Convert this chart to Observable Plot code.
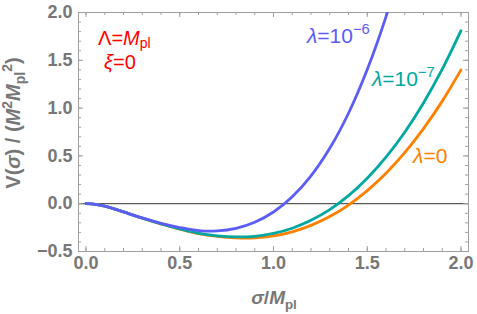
<!DOCTYPE html>
<html><head><meta charset="utf-8">
<script src="https://cdn.jsdelivr.net/npm/d3@7"></script>
<script src="https://cdn.jsdelivr.net/npm/@observablehq/plot@0.6"></script>
<style>body{margin:0;background:#fff} svg{display:block}</style>
</head><body><div id="chart"></div>
<script>
// ---- data ----
const sigma = [0,0.05,0.1,0.15,0.2,0.3,0.4,0.5,0.6,0.7,0.8,0.9,1.0,1.1,1.2,1.3,1.4,1.5,1.6,1.7,1.8,1.9,2.0];
const vLambda0   = [0,-0.007,-0.026,-0.054,-0.086,-0.151,-0.212,-0.265,-0.313,-0.342,-0.357,-0.358,-0.337,-0.294,-0.227,-0.135,-0.014,0.137,0.319,0.534,0.785,1.073,1.40];
const vLambda1e7 = [0,-0.007,-0.026,-0.054,-0.086,-0.151,-0.211,-0.263,-0.310,-0.336,-0.347,-0.341,-0.311,-0.257,-0.174,-0.062,0.084,0.267,0.487,0.748,1.054,1.407,1.81];
const vLambda1e6 = [0,-0.007,-0.026,-0.054,-0.086,-0.149,-0.206,-0.249,-0.281,-0.284,-0.257,-0.194,-0.087,0.072,0.291,0.579,0.946,1.403,1.957,2.622];
const seriesColors = ["#ff8000", "#00a89f", "#5c5cf7"];
const xTickValues = [0, 0.5, 1, 1.5, 2];
const xTickLabels = ["0.0", "0.5", "1.0", "1.5", "2.0"];
const yTickValues = [-0.5, 0, 0.5, 1, 1.5, 2];
const yTickLabels = ["\u22120.5", "0.0", "0.5", "1.0", "1.5", "2.0"];
const xMinor = d3.range(0, 21).map(i => i / 10);
const yMinor = d3.range(-5, 21).map(i => i / 10);

const FONT = "'Liberation Sans', Arial, sans-serif";
const GRAY = "#777";
const FRAME = "#a0a0a0";

const rows = [];
vLambda0.forEach((v, i) => rows.push({s: sigma[i], v, k: 0}));
vLambda1e7.forEach((v, i) => rows.push({s: sigma[i], v, k: 1}));
vLambda1e6.forEach((v, i) => rows.push({s: sigma[i], v, k: 2}));

const W = 477, H = 314, mL = 78, mR = 9, mT = 12, mB = 63;
const pw = W - mL - mR, ph = H - mT - mB;

const plot = Plot.plot({
  width: W, height: H,
  marginLeft: mL, marginRight: mR, marginTop: mT, marginBottom: mB,
  style: {fontFamily: FONT, background: "#fff"},
  x: {domain: [-0.04, 2.04], axis: null},
  y: {domain: [-0.5, 2.0], axis: null},
  marks: [
    Plot.ruleY([0], {stroke: "#333", strokeWidth: 1}),
    // ticks inside the frame (all four sides)
    Plot.tickX(xMinor, {x: d => d, stroke: FRAME, insetTop: ph - 3}),
    Plot.tickX(xTickValues, {x: d => d, stroke: FRAME, insetTop: ph - 5}),
    Plot.tickX(xMinor, {x: d => d, stroke: FRAME, insetBottom: ph - 3}),
    Plot.tickX(xTickValues, {x: d => d, stroke: FRAME, insetBottom: ph - 5}),
    Plot.tickY(yMinor, {y: d => d, stroke: FRAME, insetRight: pw - 3}),
    Plot.tickY(yTickValues, {y: d => d, stroke: FRAME, insetRight: pw - 5}),
    Plot.tickY(yMinor, {y: d => d, stroke: FRAME, insetLeft: pw - 3}),
    Plot.tickY(yTickValues, {y: d => d, stroke: FRAME, insetLeft: pw - 5}),
    Plot.frame({stroke: FRAME, strokeWidth: 1}),
    Plot.text(xTickValues, {x: d => d, frameAnchor: "bottom", dy: 17, text: (d, i) => xTickLabels[i],
      fill: GRAY, fontSize: 18, fontWeight: "bold", fontFamily: FONT}),
    Plot.text(yTickValues, {y: d => d, frameAnchor: "left", dx: -6, textAnchor: "end", text: (d, i) => yTickLabels[i],
      fill: GRAY, fontSize: 18, fontWeight: "bold", fontFamily: FONT}),
    Plot.line(rows, {x: "s", y: "v", z: "k", stroke: d => seriesColors[d.k], strokeWidth: 2.8,
      curve: "catmull-rom", clip: true})
  ]
});
document.getElementById("chart").appendChild(plot);

const sx = plot.scale("x"), sy = plot.scale("y");
function rich(x, y, parts, {size = 21, fill = "#000", weight = "normal", anchor = "start", rotate = 0, subShift = 0.25} = {}) {
  const t = d3.select(plot).append("text")
    .attr("transform", `translate(${x},${y}) rotate(${rotate})`)
    .attr("text-anchor", anchor).attr("font-family", FONT).attr("font-size", size)
    .attr("font-weight", weight).attr("fill", fill);
  let shift = 0;
  for (const p of parts) {
    const o = typeof p === "string" ? {t: p} : p;
    const ts = t.append("tspan").text(o.t);
    let target = 0;
    if (o.sub) target = size * subShift;
    if (o.sup) target = -size * 0.42;
    if (target - shift) ts.attr("dy", target - shift);
    shift = target;
    if (o.sub || o.sup) ts.attr("font-size", size * 0.7);
    if (o.i) ts.attr("font-style", "italic");
  }
}
// annotations
rich(sx.apply(0.067), sy.apply(1.654), ["\u039b=", {t: "M", i: true}, {t: "pl", sub: true}], {fill: "#f00", size: 20, subShift: 0.15});
rich(sx.apply(0.099), sy.apply(1.403), [{t: "\u03be", i: true}, "=0"], {fill: "#f00", size: 20});
rich(sx.apply(1.181), sy.apply(1.676), [{t: "\u03bb", i: true}, "=10", {t: "\u22126", sup: true}], {fill: seriesColors[2]});
rich(sx.apply(1.528), sy.apply(1.226), [{t: "\u03bb", i: true}, "=10", {t: "\u22127", sup: true}], {fill: seriesColors[1]});
rich(sx.apply(1.747), sy.apply(0.421), [{t: "\u03bb", i: true}, "=0"], {fill: seriesColors[0]});
// axis titles
rich(mL + pw / 2 + 1, 304, [{t: "\u03c3", i: true}, "/", {t: "M", i: true}, {t: "pl", sub: true}],
  {fill: GRAY, weight: "bold", anchor: "middle", size: 19});
rich(20, 123, ["V(", {t: "\u03c3", i: true}, ") / (", {t: "M", i: true}, {t: "2", sup: true}, {t: "M", i: true},
  {t: "pl", sub: true}, {t: "2", sup: true}, ")"],
  {fill: GRAY, weight: "bold", anchor: "middle", size: 20, rotate: -90});
</script>
</body></html>
